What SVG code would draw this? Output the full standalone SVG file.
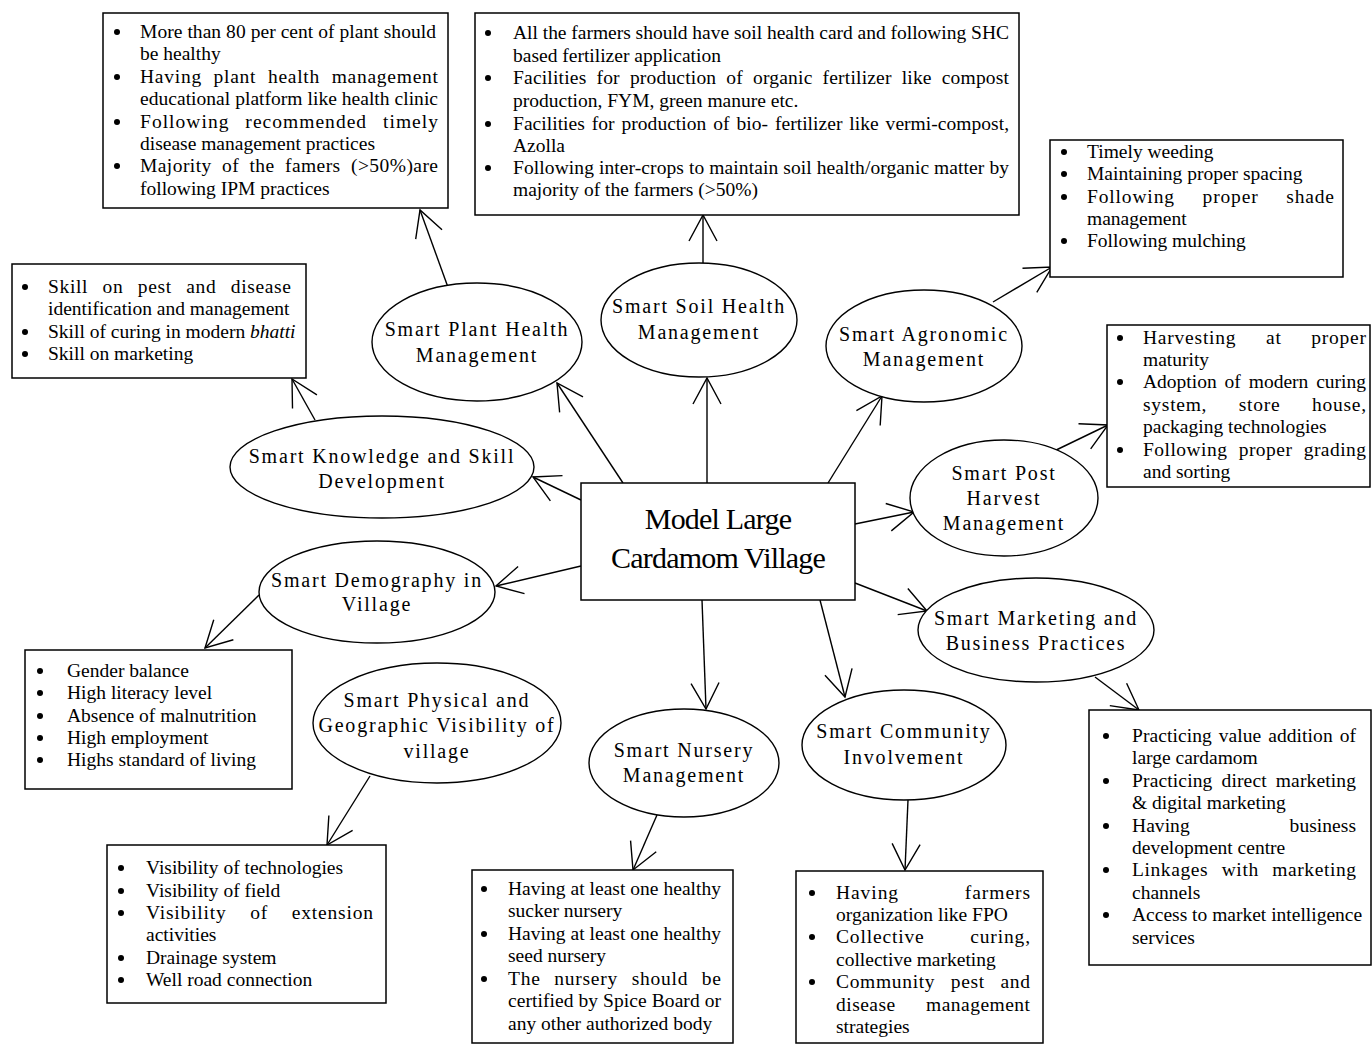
<svg xmlns="http://www.w3.org/2000/svg" width="1372" height="1045" viewBox="0 0 1372 1045">
<style>
.box{fill:#fff;stroke:#000;stroke-width:1.5}
.el{fill:#fff;stroke:#000;stroke-width:1.4}
.t{font-family:"Liberation Serif","Times New Roman",serif;font-size:19.5px;fill:#000}
.bu{fill:#000}
.lbl{font-family:"Liberation Serif","Times New Roman",serif;font-size:20px;letter-spacing:1.8px;fill:#000;text-anchor:middle}
.title{font-family:"Liberation Serif","Times New Roman",serif;font-size:30px;letter-spacing:-0.8px;fill:#000;text-anchor:middle}
.cn line{stroke:#000;stroke-width:1.4}
</style>
<defs>
<marker id="ah" markerUnits="userSpaceOnUse" markerWidth="60" markerHeight="60" viewBox="-30 -30 60 60" refX="0" refY="0" orient="auto" overflow="visible">
<path d="M-26,-14 L0,0 L-26,14" fill="none" stroke="#000" stroke-width="1.4"/>
</marker>
</defs>
<rect width="1372" height="1045" fill="#fff"/>

<g id="connectors" class="cn">
<line x1="623" y1="483" x2="557" y2="383" marker-end="url(#ah)"/>
<line x1="449" y1="290" x2="420" y2="210" marker-end="url(#ah)"/>
<line x1="707" y1="483" x2="707" y2="378" marker-end="url(#ah)"/>
<line x1="703" y1="263" x2="703" y2="215" marker-end="url(#ah)"/>
<line x1="828" y1="483" x2="882" y2="396" marker-end="url(#ah)"/>
<line x1="993" y1="302" x2="1052" y2="267" marker-end="url(#ah)"/>
<line x1="581" y1="500" x2="533" y2="477" marker-end="url(#ah)"/>
<line x1="315" y1="420" x2="292" y2="379" marker-end="url(#ah)"/>
<line x1="855" y1="524" x2="914" y2="512" marker-end="url(#ah)"/>
<line x1="1050" y1="453" x2="1108" y2="425" marker-end="url(#ah)"/>
<line x1="581" y1="566" x2="496" y2="586" marker-end="url(#ah)"/>
<line x1="259" y1="595" x2="205" y2="648" marker-end="url(#ah)"/>
<line x1="855" y1="583" x2="927" y2="611" marker-end="url(#ah)"/>
<line x1="1095" y1="677" x2="1139" y2="710" marker-end="url(#ah)"/>
<line x1="370" y1="776" x2="327" y2="845" marker-end="url(#ah)"/>
<line x1="702" y1="600" x2="706" y2="709" marker-end="url(#ah)"/>
<line x1="657" y1="815" x2="633" y2="870" marker-end="url(#ah)"/>
<line x1="820" y1="600" x2="845" y2="697" marker-end="url(#ah)"/>
<line x1="908" y1="800" x2="905" y2="870" marker-end="url(#ah)"/>
</g>

<g id="center">
<rect class="box" x="581" y="483" width="274" height="117"/>
<text class="title" x="718" y="529">Model Large</text>
<text class="title" x="718" y="568">Cardamom Village</text>
</g>

<g id="e-plant">
<ellipse class="el" cx="477" cy="342" rx="105" ry="59"/>
<text class="lbl" x="477" y="336">Smart Plant Health</text>
<text class="lbl" x="477" y="362">Management</text>
</g>
<g id="e-soil">
<ellipse class="el" cx="699" cy="320" rx="98" ry="57"/>
<text class="lbl" x="699" y="313">Smart Soil Health</text>
<text class="lbl" x="699" y="339">Management</text>
</g>
<g id="e-agro">
<ellipse class="el" cx="924" cy="346" rx="98" ry="56"/>
<text class="lbl" x="924" y="341">Smart Agronomic</text>
<text class="lbl" x="924" y="366">Management</text>
</g>
<g id="e-know">
<ellipse class="el" cx="382" cy="467" rx="152" ry="51"/>
<text class="lbl" x="382" y="463">Smart Knowledge and Skill</text>
<text class="lbl" x="382" y="488">Development</text>
</g>
<g id="e-post">
<ellipse class="el" cx="1004" cy="498" rx="94" ry="58"/>
<text class="lbl" x="1004" y="480">Smart Post</text>
<text class="lbl" x="1004" y="505">Harvest</text>
<text class="lbl" x="1004" y="530">Management</text>
</g>
<g id="e-demo">
<ellipse class="el" cx="377" cy="592" rx="118" ry="51"/>
<text class="lbl" x="377" y="587">Smart Demography in</text>
<text class="lbl" x="377" y="611">Village</text>
</g>
<g id="e-market">
<ellipse class="el" cx="1036" cy="630" rx="118" ry="52"/>
<text class="lbl" x="1036" y="625">Smart Marketing and</text>
<text class="lbl" x="1036" y="650">Business Practices</text>
</g>
<g id="e-phys">
<ellipse class="el" cx="437" cy="723" rx="124" ry="60"/>
<text class="lbl" x="437" y="707">Smart Physical and</text>
<text class="lbl" x="437" y="732">Geographic Visibility of</text>
<text class="lbl" x="437" y="758">village</text>
</g>
<g id="e-nursery">
<ellipse class="el" cx="684" cy="763" rx="95" ry="54"/>
<text class="lbl" x="684" y="757">Smart Nursery</text>
<text class="lbl" x="684" y="782">Management</text>
</g>
<g id="e-comm">
<ellipse class="el" cx="904" cy="745" rx="102" ry="55"/>
<text class="lbl" x="904" y="738">Smart Community</text>
<text class="lbl" x="904" y="764">Involvement</text>
</g>

<g id="b-plant">
<rect class="box" x="103" y="13" width="345" height="195"/>
<circle class="bu" cx="117" cy="32" r="3"/><text class="t" x="140" y="38" textLength="296" lengthAdjust="spacing">More than 80 per cent of plant should</text>
<text class="t" x="140" y="60">be healthy</text>
<circle class="bu" cx="117" cy="77" r="3"/><text class="t" x="140" y="83" word-spacing="6" textLength="298" lengthAdjust="spacing">Having plant health management</text>
<text class="t" x="140" y="105" textLength="298" lengthAdjust="spacing">educational platform like health clinic</text>
<circle class="bu" cx="117" cy="122" r="3"/><text class="t" x="140" y="128" word-spacing="10" textLength="298" lengthAdjust="spacing">Following recommended timely</text>
<text class="t" x="140" y="150">disease management practices</text>
<circle class="bu" cx="117" cy="166" r="3"/><text class="t" x="140" y="172" word-spacing="5" textLength="298" lengthAdjust="spacing">Majority of the famers (&gt;50%)are</text>
<text class="t" x="140" y="195">following IPM practices</text>
</g>

<g id="b-soil">
<rect class="box" x="475" y="13" width="544" height="202"/>
<circle class="bu" cx="488" cy="33" r="3"/><text class="t" x="513" y="39" textLength="496" lengthAdjust="spacing">All the farmers should have soil health card and following SHC</text>
<text class="t" x="513" y="62">based fertilizer application</text>
<circle class="bu" cx="488" cy="78" r="3"/><text class="t" x="513" y="84" word-spacing="5" textLength="496" lengthAdjust="spacing">Facilities for production of organic fertilizer like compost</text>
<text class="t" x="513" y="107">production, FYM, green manure etc.</text>
<circle class="bu" cx="488" cy="124" r="3"/><text class="t" x="513" y="130" word-spacing="2" textLength="496" lengthAdjust="spacing">Facilities for production of bio- fertilizer like vermi-compost,</text>
<text class="t" x="513" y="152">Azolla</text>
<circle class="bu" cx="488" cy="168" r="3"/><text class="t" x="513" y="174" textLength="496" lengthAdjust="spacing">Following inter-crops to maintain soil health/organic matter by</text>
<text class="t" x="513" y="196">majority of the farmers (&gt;50%)</text>
</g>

<g id="b-agro">
<rect class="box" x="1050" y="140" width="293" height="137"/>
<circle class="bu" cx="1064" cy="152" r="3"/><text class="t" x="1087" y="158">Timely weeding</text>
<circle class="bu" cx="1064" cy="174" r="3"/><text class="t" x="1087" y="180">Maintaining proper spacing</text>
<circle class="bu" cx="1064" cy="197" r="3"/><text class="t" x="1087" y="203" word-spacing="22" textLength="247" lengthAdjust="spacing">Following proper shade</text>
<text class="t" x="1087" y="225">management</text>
<circle class="bu" cx="1064" cy="241" r="3"/><text class="t" x="1087" y="247">Following mulching</text>
</g>

<g id="b-know">
<rect class="box" x="12" y="264" width="294" height="114"/>
<circle class="bu" cx="25" cy="287" r="3"/><text class="t" x="48" y="293" word-spacing="9" textLength="243" lengthAdjust="spacing">Skill on pest and disease</text>
<text class="t" x="48" y="315">identification and management</text>
<circle class="bu" cx="25" cy="332" r="3"/><text class="t" x="48" y="338">Skill of curing in modern <tspan font-style="italic">bhatti</tspan></text>
<circle class="bu" cx="25" cy="354" r="3"/><text class="t" x="48" y="360">Skill on marketing</text>
</g>

<g id="b-post">
<rect class="box" x="1107" y="325" width="263" height="162"/>
<circle class="bu" cx="1120" cy="338" r="3"/><text class="t" x="1143" y="344" word-spacing="24" textLength="223" lengthAdjust="spacing">Harvesting at proper</text>
<text class="t" x="1143" y="366">maturity</text>
<circle class="bu" cx="1120" cy="382" r="3"/><text class="t" x="1143" y="388" word-spacing="3" textLength="223" lengthAdjust="spacing">Adoption of modern curing</text>
<text class="t" x="1143" y="411" word-spacing="26" textLength="223" lengthAdjust="spacing">system, store house,</text>
<text class="t" x="1143" y="433">packaging technologies</text>
<circle class="bu" cx="1120" cy="450" r="3"/><text class="t" x="1143" y="456" word-spacing="6" textLength="223" lengthAdjust="spacing">Following proper grading</text>
<text class="t" x="1143" y="478">and sorting</text>
</g>

<g id="b-demo">
<rect class="box" x="25" y="650" width="267" height="139"/>
<circle class="bu" cx="40" cy="671" r="3"/><text class="t" x="67" y="677">Gender balance</text>
<circle class="bu" cx="40" cy="693" r="3"/><text class="t" x="67" y="699">High literacy level</text>
<circle class="bu" cx="40" cy="716" r="3"/><text class="t" x="67" y="722">Absence of malnutrition</text>
<circle class="bu" cx="40" cy="738" r="3"/><text class="t" x="67" y="744">High employment</text>
<circle class="bu" cx="40" cy="760" r="3"/><text class="t" x="67" y="766">Highs standard of living</text>
</g>

<g id="b-phys">
<rect class="box" x="107" y="845" width="279" height="158"/>
<circle class="bu" cx="121" cy="868" r="3"/><text class="t" x="146" y="874">Visibility of technologies</text>
<circle class="bu" cx="121" cy="891" r="3"/><text class="t" x="146" y="897">Visibility of field</text>
<circle class="bu" cx="121" cy="913" r="3"/><text class="t" x="146" y="919" word-spacing="18" textLength="227" lengthAdjust="spacing">Visibility of extension</text>
<text class="t" x="146" y="941">activities</text>
<circle class="bu" cx="121" cy="958" r="3"/><text class="t" x="146" y="964">Drainage system</text>
<circle class="bu" cx="121" cy="980" r="3"/><text class="t" x="146" y="986">Well road connection</text>
</g>

<g id="b-nursery">
<rect class="box" x="472" y="870" width="261" height="173"/>
<circle class="bu" cx="484" cy="889" r="3"/><text class="t" x="508" y="895" textLength="213" lengthAdjust="spacing">Having at least one healthy</text>
<text class="t" x="508" y="917">sucker nursery</text>
<circle class="bu" cx="484" cy="934" r="3"/><text class="t" x="508" y="940" textLength="213" lengthAdjust="spacing">Having at least one healthy</text>
<text class="t" x="508" y="962">seed nursery</text>
<circle class="bu" cx="484" cy="979" r="3"/><text class="t" x="508" y="985" word-spacing="8" textLength="213" lengthAdjust="spacing">The nursery should be</text>
<text class="t" x="508" y="1007" textLength="213" lengthAdjust="spacing">certified by Spice Board or</text>
<text class="t" x="508" y="1030">any other authorized body</text>
</g>

<g id="b-comm">
<rect class="box" x="796" y="871" width="247" height="172"/>
<circle class="bu" cx="812" cy="893" r="3"/><text class="t" x="836" y="899" word-spacing="60" textLength="194" lengthAdjust="spacing">Having farmers</text>
<text class="t" x="836" y="921">organization like FPO</text>
<circle class="bu" cx="812" cy="937" r="3"/><text class="t" x="836" y="943" word-spacing="40" textLength="194" lengthAdjust="spacing">Collective curing,</text>
<text class="t" x="836" y="966">collective marketing</text>
<circle class="bu" cx="812" cy="982" r="3"/><text class="t" x="836" y="988" word-spacing="10" textLength="194" lengthAdjust="spacing">Community pest and</text>
<text class="t" x="836" y="1011" word-spacing="25" textLength="194" lengthAdjust="spacing">disease management</text>
<text class="t" x="836" y="1033">strategies</text>
</g>

<g id="b-market">
<rect class="box" x="1089" y="710" width="282" height="255"/>
<circle class="bu" cx="1106" cy="736" r="3"/><text class="t" x="1132" y="742" word-spacing="2" textLength="224" lengthAdjust="spacing">Practicing value addition of</text>
<text class="t" x="1132" y="764">large cardamom</text>
<circle class="bu" cx="1106" cy="781" r="3"/><text class="t" x="1132" y="787" word-spacing="4" textLength="224" lengthAdjust="spacing">Practicing direct marketing</text>
<text class="t" x="1132" y="809">&amp; digital marketing</text>
<circle class="bu" cx="1106" cy="826" r="3"/><text class="t" x="1132" y="832" word-spacing="95" textLength="224" lengthAdjust="spacing">Having business</text>
<text class="t" x="1132" y="854">development centre</text>
<circle class="bu" cx="1106" cy="870" r="3"/><text class="t" x="1132" y="876" word-spacing="8" textLength="224" lengthAdjust="spacing">Linkages with marketing</text>
<text class="t" x="1132" y="899">channels</text>
<circle class="bu" cx="1106" cy="915" r="3"/><text class="t" x="1132" y="921">Access to market intelligence</text>
<text class="t" x="1132" y="944">services</text>
</g>
</svg>
